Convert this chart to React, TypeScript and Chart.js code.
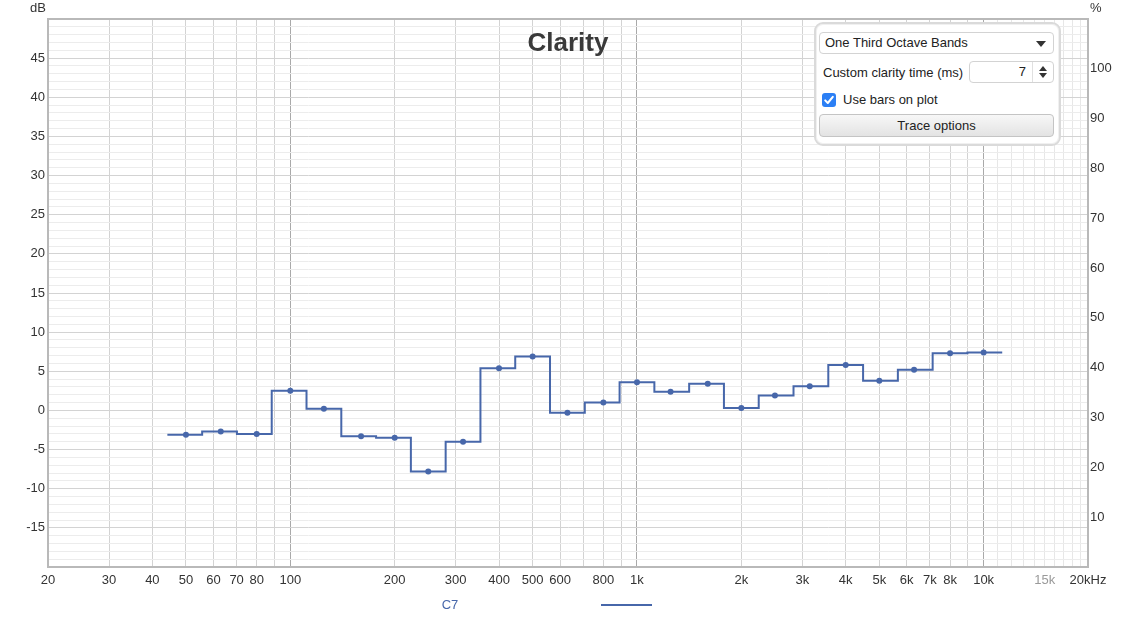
import { useEffect, useRef } from "react";
import Chart from "chart.js/auto";

// one-third octave band centres (Hz) and the C7 clarity values (dB)
const bandCentres = [
  50, 63, 80, 100, 125, 160, 200, 250, 315, 400, 500, 630, 800, 1000, 1250,
  1600, 2000, 2500, 3150, 4000, 5000, 6300, 8000, 10000,
];
const c7Values = [
  -3.1, -2.7, -3.0, 2.5, 0.2, -3.3, -3.5, -7.8, -4.0, 5.4, 6.9, -0.3, 1.0, 3.6,
  2.4, 3.4, 0.3, 1.9, 3.1, 5.8, 3.8, 5.2, 7.3, 7.4,
];

// frequency grid lines and the ones that get a label
const xGridValues = [
  20, 30, 40, 50, 60, 70, 80, 90, 100, 200, 300, 400, 500, 600, 700, 800, 900,
  1000, 2000, 3000, 4000, 5000, 6000, 7000, 8000, 9000, 10000, 11000, 12000,
  13000, 14000, 15000, 16000, 17000, 18000, 19000, 20000,
];
const xLabelValues = [
  20, 30, 40, 50, 60, 70, 80, 100, 200, 300, 400, 500, 600, 800, 1000, 2000,
  3000, 4000, 5000, 6000, 7000, 8000, 10000, 15000, 20000,
];
const xLabelTexts = [
  "20", "30", "40", "50", "60", "70", "80", "100", "200", "300", "400", "500",
  "600", "800", "1k", "2k", "3k", "4k", "5k", "6k", "7k", "8k", "10k", "15k",
  "20kHz",
];

const FONT = '"Liberation Sans", Arial, Helvetica, sans-serif';
const BLUE = "#4767aa";
const BORDER = "#b9b9b9";

// exact band edges from the nominal centre frequencies
const exactCentre = (f: number) =>
  1000 * Math.pow(2, Math.round(3 * Math.log2(f / 1000)) / 3);

const decorPlugin = {
  id: "decor",
  afterDraw(chart: any) {
    const { ctx, chartArea: a } = chart;
    ctx.save();
    ctx.strokeStyle = BORDER;
    ctx.lineWidth = 2;
    ctx.beginPath();
    ctx.moveTo(a.left - 1, a.top);
    ctx.lineTo(a.right + 1, a.top);
    ctx.stroke();

    ctx.fillStyle = "#3a3a3a";
    ctx.font = `bold 26px ${FONT}`;
    ctx.textAlign = "center";
    ctx.textBaseline = "alphabetic";
    ctx.fillText("Clarity", (a.left + a.right) / 2, a.top + 32);

    ctx.font = `13px ${FONT}`;
    ctx.fillStyle = "#333";
    ctx.textBaseline = "middle";
    ctx.textAlign = "right";
    ctx.fillText("dB", a.left - 2, 8);
    ctx.textAlign = "left";
    ctx.fillText("%", a.right + 2, 8);

    // legend under the plot
    ctx.fillStyle = BLUE;
    ctx.textAlign = "center";
    ctx.fillText("C7", 450, 605);
    ctx.strokeStyle = BLUE;
    ctx.lineWidth = 2;
    ctx.beginPath();
    ctx.moveTo(601, 605);
    ctx.lineTo(652, 605);
    ctx.stroke();
    ctx.restore();
  },
};

const ClarityChart = () => {
  const chartRef = useRef<HTMLCanvasElement | null>(null);

  useEffect(() => {
    if (!chartRef.current) return;
    const ctx = chartRef.current.getContext("2d");
    if (!ctx) return;

    const steps: { x: number; y: number }[] = [];
    bandCentres.forEach((f, i) => {
      const c = exactCentre(f);
      steps.push({ x: c / Math.pow(2, 1 / 6), y: c7Values[i] });
      steps.push({ x: c * Math.pow(2, 1 / 6), y: c7Values[i] });
    });
    const dots = bandCentres.map((f, i) => ({ x: f, y: c7Values[i] }));

    const myChart = new Chart(ctx, {
      type: "line",
      data: {
        datasets: [
          {
            label: "C7 points",
            data: dots,
            showLine: false,
            pointRadius: 3,
            pointBackgroundColor: BLUE,
            pointBorderWidth: 0,
            yAxisID: "y",
          },
          {
            label: "C7",
            data: steps,
            borderColor: BLUE,
            borderWidth: 2,
            pointRadius: 0,
            tension: 0,
            fill: false,
            yAxisID: "y",
          },
        ],
      },
      options: {
        responsive: true,
        maintainAspectRatio: false,
        animation: false,
        layout: { padding: { top: 19, left: 0, right: 0, bottom: 0 } },
        plugins: {
          legend: { display: false },
          tooltip: { enabled: false },
          title: { display: false },
        },
        scales: {
          x: {
            type: "logarithmic",
            min: 20,
            max: 20000,
            afterBuildTicks: (scale: any) => {
              scale.ticks = xGridValues.map((v) => ({ value: v }));
            },
            afterFit: (scale: any) => {
              scale.height = 53;
            },
            ticks: {
              autoSkip: false,
              maxRotation: 0,
              padding: 6,
              font: { size: 13, family: FONT },
              color: (c: any) => (c.tick && c.tick.value === 15000 ? "#9a9a9a" : "#333"),
              callback: (v: any) => {
                const i = xLabelValues.indexOf(Number(v));
                return i >= 0 ? xLabelTexts[i] : "";
              },
            },
            grid: {
              drawTicks: false,
              color: (c: any) => {
                const v = c.tick ? c.tick.value : 0;
                if (v === 100 || v === 1000 || v === 10000) return "#a9a9a9";
                if (v > 10000) return "#e7e7e7";
                return "#d3d3d3";
              },
            },
            border: { display: true, color: BORDER, width: 2 },
          },
          y: {
            type: "linear",
            position: "left",
            min: -20,
            max: 50,
            afterFit: (scale: any) => {
              scale.width = 48;
            },
            ticks: {
              stepSize: 1,
              autoSkip: false,
              padding: 3,
              font: { size: 13, family: FONT },
              color: "#333",
              callback: (v: any) =>
                v % 5 === 0 && v > -20 && v < 50 ? String(v) : "",
            },
            grid: {
              drawTicks: false,
              color: (c: any) =>
                c.tick && c.tick.value % 5 === 0 ? "#d3d3d3" : "#ececec",
            },
            border: { display: true, color: BORDER, width: 2 },
          },
          y2: {
            type: "linear",
            position: "right",
            min: 0,
            max: 110,
            afterFit: (scale: any) => {
              scale.width = 50;
            },
            ticks: {
              stepSize: 10,
              autoSkip: false,
              padding: 2,
              font: { size: 13, family: FONT },
              color: "#333",
              callback: (v: any) => (v > 0 && v < 110 ? String(v) : ""),
            },
            grid: { drawOnChartArea: false, drawTicks: false },
            border: { display: true, color: BORDER, width: 2 },
          },
        },
      } as any,
      plugins: [decorPlugin],
    });

    return () => {
      myChart.destroy();
    };
  }, []);

  return <canvas ref={chartRef}></canvas>;
};

const text13 = { fontFamily: FONT, fontSize: 13, color: "#222" };

const OptionsPanel = () => (
  <div
    style={{
      position: "absolute",
      left: 814,
      top: 22,
      width: 247,
      height: 124,
      boxSizing: "border-box",
      border: "2px solid #dadada",
      borderRadius: 9,
      background: "#fff",
      boxShadow: "inset 0 0 0 1px #f0f0f0",
      ...text13,
    }}
  >
    <div
      style={{
        position: "absolute",
        left: 3,
        top: 8,
        width: 235,
        height: 22,
        boxSizing: "border-box",
        border: "1px solid #d3d3d3",
        borderRadius: 4,
        lineHeight: "20px",
        paddingLeft: 5,
      }}
    >
      One Third Octave Bands
      <div
        style={{
          position: "absolute",
          right: 7,
          top: 8,
          width: 0,
          height: 0,
          borderLeft: "5px solid transparent",
          borderRight: "5px solid transparent",
          borderTop: "6px solid #333",
        }}
      />
    </div>
    <div style={{ position: "absolute", left: 7, top: 40, lineHeight: "18px" }}>
      Custom clarity time (ms)
    </div>
    <div
      style={{
        position: "absolute",
        left: 153,
        top: 37,
        width: 85,
        height: 22,
        boxSizing: "border-box",
        border: "1px solid #d3d3d3",
        borderRadius: 4,
        lineHeight: "20px",
      }}
    >
      <div style={{ position: "absolute", right: 27, top: 0 }}>7</div>
      <div
        style={{
          position: "absolute",
          left: 62,
          top: 0,
          width: 1,
          height: 20,
          background: "#e0e0e0",
        }}
      />
      <div
        style={{
          position: "absolute",
          right: 6,
          top: 4,
          width: 0,
          height: 0,
          borderLeft: "4px solid transparent",
          borderRight: "4px solid transparent",
          borderBottom: "5px solid #333",
        }}
      />
      <div
        style={{
          position: "absolute",
          right: 6,
          top: 11,
          width: 0,
          height: 0,
          borderLeft: "4px solid transparent",
          borderRight: "4px solid transparent",
          borderTop: "5px solid #333",
        }}
      />
    </div>
    <div
      style={{
        position: "absolute",
        left: 6,
        top: 69,
        width: 14,
        height: 14,
        borderRadius: 3,
        background: "#2b7ff5",
      }}
    >
      <svg width="14" height="14" viewBox="0 0 14 14">
        <path
          d="M3.2 7.4 L5.8 10 L10.8 3.8"
          fill="none"
          stroke="#fff"
          strokeWidth="2"
          strokeLinecap="round"
          strokeLinejoin="round"
        />
      </svg>
    </div>
    <div style={{ position: "absolute", left: 27, top: 67, lineHeight: "18px" }}>
      Use bars on plot
    </div>
    <div
      style={{
        position: "absolute",
        left: 3,
        top: 90,
        width: 235,
        height: 23,
        boxSizing: "border-box",
        border: "1px solid #c4c4c4",
        borderRadius: 4,
        background: "linear-gradient(#f7f7f7, #e3e3e3)",
        textAlign: "center",
        lineHeight: "21px",
      }}
    >
      Trace options
    </div>
  </div>
);

export default function App() {
  return (
    <div
      style={{
        position: "absolute",
        left: 0,
        top: 0,
        width: 1138,
        height: 620,
        background: "#fff",
      }}
    >
      <ClarityChart />
      <OptionsPanel />
    </div>
  );
}
